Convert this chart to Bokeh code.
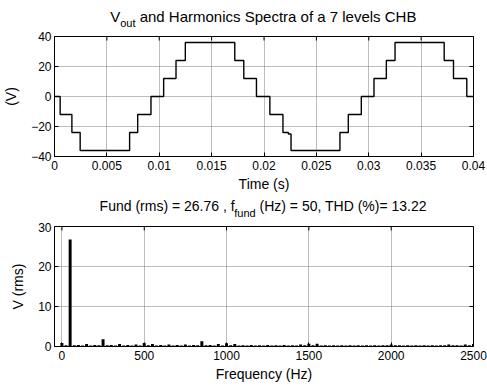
from bokeh.plotting import figure
from bokeh.models import Range1d, FixedTicker
from bokeh.layouts import column
from bokeh.embed import file_html
from bokeh.resources import INLINE

FONT = "Liberation Sans"

# ---- Output voltage waveform (switching instants and levels) ----
t_switch = [0.0, 0.00054, 0.00166, 0.00245, 0.00717, 0.00794, 0.00921,
            0.01042, 0.01160, 0.01249, 0.01721, 0.01807, 0.01928,
            0.02056, 0.02181, 0.02233, 0.02258, 0.02725, 0.02805, 0.02929,
            0.03050, 0.03168, 0.03251, 0.03720, 0.03809, 0.03936, 0.04]
v_level = [0, -12, -24, -36, -24, -12, 0,
           12, 24, 36, 24, 12, 0,
           -12, -24, -25, -36, -24, -12, 0,
           12, 24, 36, 24, 12, 0, 0]

t_ticks = [0, 0.005, 0.01, 0.015, 0.02, 0.025, 0.03, 0.035, 0.04]
t_tick_labels = ["0", "0.005", "0.01", "0.015", "0.02", "0.025", "0.03", "0.035", "0.04"]
v_ticks = [-40, -20, 0, 20, 40]

# ---- Harmonic spectrum (25 Hz bins, 0 .. 2500 Hz) ----
bin_step = 25
spectrum = [0.9, 0.3, 26.76, 0.3, 0.35, 0.25, 0.6, 0.25, 0.35, 0.3,
            1.8, 0.3, 0.35, 0.25, 0.6, 0.25, 0.35, 0.25, 0.5, 0.25,
            0.9, 0.3, 0.6, 0.25, 0.35, 0.25, 0.5, 0.25, 0.35, 0.25,
            0.5, 0.25, 0.35, 0.3, 1.3, 0.3, 0.35, 0.25, 0.6, 0.25,
            0.8, 0.3, 0.6, 0.25, 0.3, 0.25, 0.4, 0.25, 0.3, 0.25,
            0.4, 0.25, 0.3, 0.25, 0.4, 0.25, 0.3, 0.25, 0.5, 0.3,
            0.7, 0.3, 0.7, 0.25, 0.3, 0.25, 0.3, 0.25, 0.3, 0.25,
            0.3, 0.25, 0.3, 0.25, 0.3, 0.25, 0.3, 0.25, 0.3, 0.3,
            0.5, 0.3, 0.3, 0.25, 0.3, 0.25, 0.3, 0.25, 0.3, 0.25,
            0.3, 0.25, 0.3, 0.3, 0.5, 0.3, 0.3, 0.25, 0.5, 0.3,
            0.6]
freqs = [i * bin_step for i in range(len(spectrum))]
f_ticks = [0, 500, 1000, 1500, 2000, 2500]
a_ticks = [0, 10, 20, 30]

# title pieces: text before subscript, subscript, text after (begins with a space)
title_top = ["V", "out", " and Harmonics Spectra of a 7 levels CHB"]
title_bot = ["Fund (rms) = 26.76 , f", "fund", " (Hz) = 50, THD (%)= 13.22"]

# Arial / Liberation Sans advance widths (em/1000) for centring the titles
W = {" ": 278, "(": 333, ")": 333, "=": 584, ",": 278, ".": 278, "%": 889,
     "A": 667, "B": 667, "C": 722, "D": 722, "F": 611, "H": 722, "S": 667, "T": 611, "V": 667,
     "a": 556, "c": 500, "d": 556, "e": 556, "f": 278, "i": 222, "l": 222, "m": 833,
     "n": 556, "o": 556, "p": 556, "r": 333, "s": 500, "t": 278, "u": 556, "v": 500,
     "z": 500}


def tw(s, size):
    return sum(W.get(ch, 556) for ch in s) * size / 1000.0


WIDTH = 487
FRAME_W, FRAME_H = 420, 120
LEFT, RIGHT = 53, 14
TICK = 4


def style(p, xticks, yticks, xlabel, ylabel, overrides=None):
    p.outline_line_color = "black"
    p.outline_line_width = 1
    p.background_fill_color = "white"
    p.border_fill_color = "white"
    for g in (p.xgrid[0], p.ygrid[0]):
        g.grid_line_color = "#7a7a7a"
        g.grid_line_dash = "1 1"
        g.grid_line_width = 1
    p.xgrid[0].ticker = FixedTicker(ticks=xticks)
    p.ygrid[0].ticker = FixedTicker(ticks=yticks)
    xa = p.xaxis[0]
    ya = p.yaxis[0]
    xa.ticker = FixedTicker(ticks=xticks)
    ya.ticker = FixedTicker(ticks=yticks)
    if overrides:
        xa.major_label_overrides = overrides
    for a in (xa, ya):
        a.axis_line_color = "black"
        a.major_tick_in = TICK
        a.major_tick_out = 0
        a.minor_tick_line_color = None
        a.major_label_text_font = FONT
        a.major_label_text_font_size = "12px"
        a.major_label_text_color = "black"
        a.axis_label_text_font = FONT
        a.axis_label_text_font_size = "14px"
        a.axis_label_text_font_style = "normal"
        a.axis_label_text_color = "black"
    xa.axis_label = xlabel
    ya.axis_label = ylabel
    xa.major_label_standoff = 4
    ya.major_label_standoff = 3
    xa.axis_label_standoff = 3
    ya.axis_label_standoff = 9
    # inward tick marks on the top and right edges (MATLAB box style)
    x0, x1 = p.x_range.start, p.x_range.end
    y0, y1 = p.y_range.start, p.y_range.end
    dy = (y1 - y0) * TICK / FRAME_H
    dx = (x1 - x0) * TICK / FRAME_W
    p.segment(x0=xticks, y0=[y1] * len(xticks), x1=xticks, y1=[y1 - dy] * len(xticks),
              line_color="black", line_width=1)
    p.segment(x0=[x1] * len(yticks), y0=yticks, x1=[x1 - dx] * len(yticks), y1=yticks,
              line_color="black", line_width=1)


def title_strip(parts, height, base_from_top, center, size, sub_size, sub_drop):
    # frame of this strip is aligned with the plots' frames -> use page pixels as data
    s = figure(width=WIDTH, height=height, output_backend="svg", toolbar_location=None,
               x_range=Range1d(LEFT, WIDTH - RIGHT), y_range=Range1d(0, height),
               x_axis_type=None, y_axis_type=None,
               min_border_left=LEFT, min_border_right=RIGHT, min_border_top=0, min_border_bottom=0)
    s.grid.visible = False
    s.outline_line_color = None
    s.border_fill_color = "white"
    main, sub, rest = parts
    total = tw(main, size) + tw(sub, sub_size) + tw(rest, size)
    xa = center - total / 2.0
    xb = xa + tw(main, size)
    xc = xb + tw(sub, sub_size)
    lead = len(rest) - len(rest.lstrip(" "))
    xc += tw(" " * lead, size)
    rest = rest.lstrip(" ")
    yb = height - base_from_top
    s.text(x=[xa], y=[yb], text=[main], text_font_size=f"{size}px", text_color="black",
           text_baseline="alphabetic", text_align="left", text_font={"value": FONT})
    s.text(x=[xb], y=[yb - sub_drop], text=[sub], text_font_size=f"{sub_size}px",
           text_color="black", text_baseline="alphabetic", text_align="left",
           text_font={"value": FONT})
    s.text(x=[xc], y=[yb], text=[rest], text_font_size=f"{size}px", text_color="black",
           text_baseline="alphabetic", text_align="left", text_font={"value": FONT})
    return s


# ---------------- top title ----------------
s1 = title_strip(title_top, 30, 16, 262, 15, 11, 6)

# ---------------- top figure ----------------
p1 = figure(width=WIDTH, height=164, output_backend="svg", toolbar_location=None,
            x_range=Range1d(0, 0.04), y_range=Range1d(-40, 40),
            min_border_left=LEFT, min_border_right=RIGHT, min_border_top=6, min_border_bottom=38)
p1.step(t_switch, v_level, mode="after", line_color="black", line_width=1.4)
style(p1, t_ticks, v_ticks, "Time (s)", "(V)",
      overrides={t: s for t, s in zip(t_ticks, t_tick_labels)})

# ---------------- bottom title ----------------
s2 = title_strip(title_bot, 28, 11, 262, 14, 11, 7)

# ---------------- bottom figure ----------------
p2 = figure(width=WIDTH, height=165, output_backend="svg", toolbar_location=None,
            x_range=Range1d(-45, 2500), y_range=Range1d(0, 30),
            min_border_left=LEFT, min_border_right=RIGHT, min_border_top=4, min_border_bottom=41)
p2.vbar(x=freqs, top=spectrum, bottom=0, width=18, fill_color="black", line_color=None)
style(p2, f_ticks, a_ticks, "Frequency (Hz)", "V (rms)")

layout = column(s1, p1, s2, p2, spacing=0)
open("out.html", "w").write(file_html(layout, INLINE))
